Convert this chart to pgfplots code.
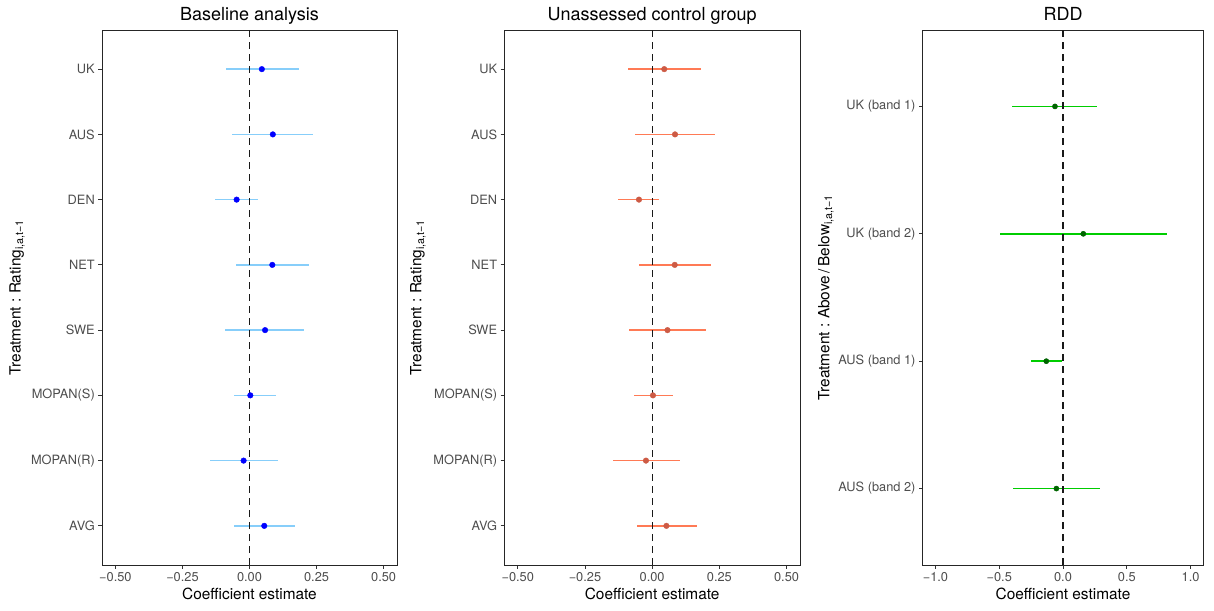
\documentclass[border=0pt]{standalone}
\usepackage{pgfplots}
\pgfplotsset{compat=1.18}
\usepackage{pgfplotstable}
\usepackage{fontspec}
\setmainfont{TeX Gyre Heros}

\definecolor{ciblue}{HTML}{87CEFA}
\definecolor{dotblue}{HTML}{0000FF}
\definecolor{cicoral}{HTML}{FF7A55}
\definecolor{dotcoral}{HTML}{CD5B45}
\definecolor{cigreen}{HTML}{00CD00}
\definecolor{dotgreen}{HTML}{006400}
\definecolor{tickgrey}{HTML}{4D4D4D}

% columns: position on y, estimate, lower and upper CI bound
\pgfplotstableread{
y est lo hi
8  0.046 -0.089 0.184
7  0.087 -0.064 0.238
6 -0.048 -0.129 0.031
5  0.085 -0.049 0.221
4  0.058 -0.093 0.205
3  0.003 -0.056 0.097
2 -0.022 -0.149 0.108
1  0.055 -0.057 0.170
}\baseline

\pgfplotstableread{
y est lo hi
8  0.045 -0.089 0.182
7  0.085 -0.063 0.235
6 -0.049 -0.126 0.027
5  0.084 -0.048 0.219
4  0.057 -0.085 0.200
3  0.003 -0.069 0.076
2 -0.023 -0.147 0.103
1  0.053 -0.058 0.167
}\unassessed

\pgfplotstableread{
y est lo hi
4 -0.063 -0.397 0.269
3  0.159 -0.493 0.812
2 -0.131 -0.251 -0.010
1 -0.052 -0.392 0.287
}\rdd

\pgfplotsset{
  coefpanel/.style={
    scale only axis, anchor=south west,
    height=535pt,
    axis line style={line width=0.9pt, black!85},
    tick align=outside, xtick pos=bottom, ytick pos=left,
    major tick length=3.7pt, minor tick num=0,
    tick style={color=black!80, line width=0.8pt},
    ticklabel style={font=\fontsize{12.8}{14}\selectfont, text=tickgrey},
    xlabel={Coefficient estimate},
    xlabel style={font=\fontsize{15.4}{17}\selectfont, at={(axis description cs:0.5,0)}, anchor=base, yshift=-34pt},
    every axis title/.style={font=\fontsize{18}{20}\selectfont, at={(0.5,1)}, anchor=base, yshift=9.5pt},
    ylabel style={font=\fontsize{15.4}{17}\selectfont, anchor=center},
    clip=false,
  },
  ci/.style={color=#1, only marks, mark=none, forget plot,
    error bars/.cd, x dir=both, x explicit, error mark=none,
    error bar style={line width=1.5pt, solid}},
  vzero/.style={black!90, line width=1.2pt, dash pattern=on 7pt off 5pt, forget plot},
  dots/.style={only marks, mark=*, mark size=2.8pt, color=#1},
}

\begin{document}
\begin{tikzpicture}
\useasboundingbox (0,0) rectangle (1214pt,610pt);

\begin{axis}[coefpanel, at={(102pt,45pt)}, width=295pt,
  title={Baseline analysis},
  xmin=-0.55, xmax=0.55, ymin=0.4, ymax=8.6,
  xtick={-0.5,-0.25,0,0.25,0.5},
  xticklabels={−0.50,−0.25,0.00,0.25,0.50},
  ytick={1,...,8},
  yticklabels={AVG,MOPAN(R),MOPAN(S),SWE,NET,DEN,AUS,UK},
  ylabel={Treatment :\ Rating\textsubscript{i,a,t−1}},
  ylabel style={at={(axis description cs:-0.288,0.5)}},
]
\addplot[ci=ciblue] table[x=est, y=y,
  x error plus expr=\thisrow{hi}-\thisrow{est},
  x error minus expr=\thisrow{est}-\thisrow{lo}] {\baseline};
\addplot[vzero] coordinates {(0,0.4) (0,8.6)};
\addplot[dots=dotblue] table[x=est, y=y] {\baseline};
\end{axis}

\begin{axis}[coefpanel, at={(504.3pt,45pt)}, width=295.7pt,
  title={Unassessed control group},
  xmin=-0.55, xmax=0.55, ymin=0.4, ymax=8.6,
  xtick={-0.5,-0.25,0,0.25,0.5},
  xticklabels={−0.50,−0.25,0.00,0.25,0.50},
  ytick={1,...,8},
  yticklabels={AVG,MOPAN(R),MOPAN(S),SWE,NET,DEN,AUS,UK},
  ylabel={Treatment :\ Rating\textsubscript{i,a,t−1}},
  ylabel style={at={(axis description cs:-0.292,0.5)}},
]
\addplot[ci=cicoral] table[x=est, y=y,
  x error plus expr=\thisrow{hi}-\thisrow{est},
  x error minus expr=\thisrow{est}-\thisrow{lo}] {\unassessed};
\addplot[vzero] coordinates {(0,0.4) (0,8.6)};
\addplot[dots=dotcoral] table[x=est, y=y] {\unassessed};
\end{axis}

\begin{axis}[coefpanel, at={(922.7pt,45pt)}, width=280.6pt,
  title={RDD},
  xmin=-1.1, xmax=1.1, ymin=0.4, ymax=4.6,
  xtick={-1,-0.5,0,0.5,1},
  xticklabels={−1.0,−0.5,0.0,0.5,1.0},
  ytick={1,...,4},
  yticklabels={AUS (band 2),AUS (band 1),UK (band 2),UK (band 1)},
  ylabel={Treatment :\ Above\,/\,Below\textsubscript{i,a,t−1}},
  ylabel style={at={(axis description cs:-0.345,0.5)}},
]
\addplot[ci=cigreen] table[x=est, y=y,
  x error plus expr=\thisrow{hi}-\thisrow{est},
  x error minus expr=\thisrow{est}-\thisrow{lo}] {\rdd};
\addplot[vzero] coordinates {(0,0.4) (0,4.6)};
\addplot[dots=dotgreen, mark size=2.6pt] table[x=est, y=y] {\rdd};
\end{axis}
\end{tikzpicture}
\end{document}
